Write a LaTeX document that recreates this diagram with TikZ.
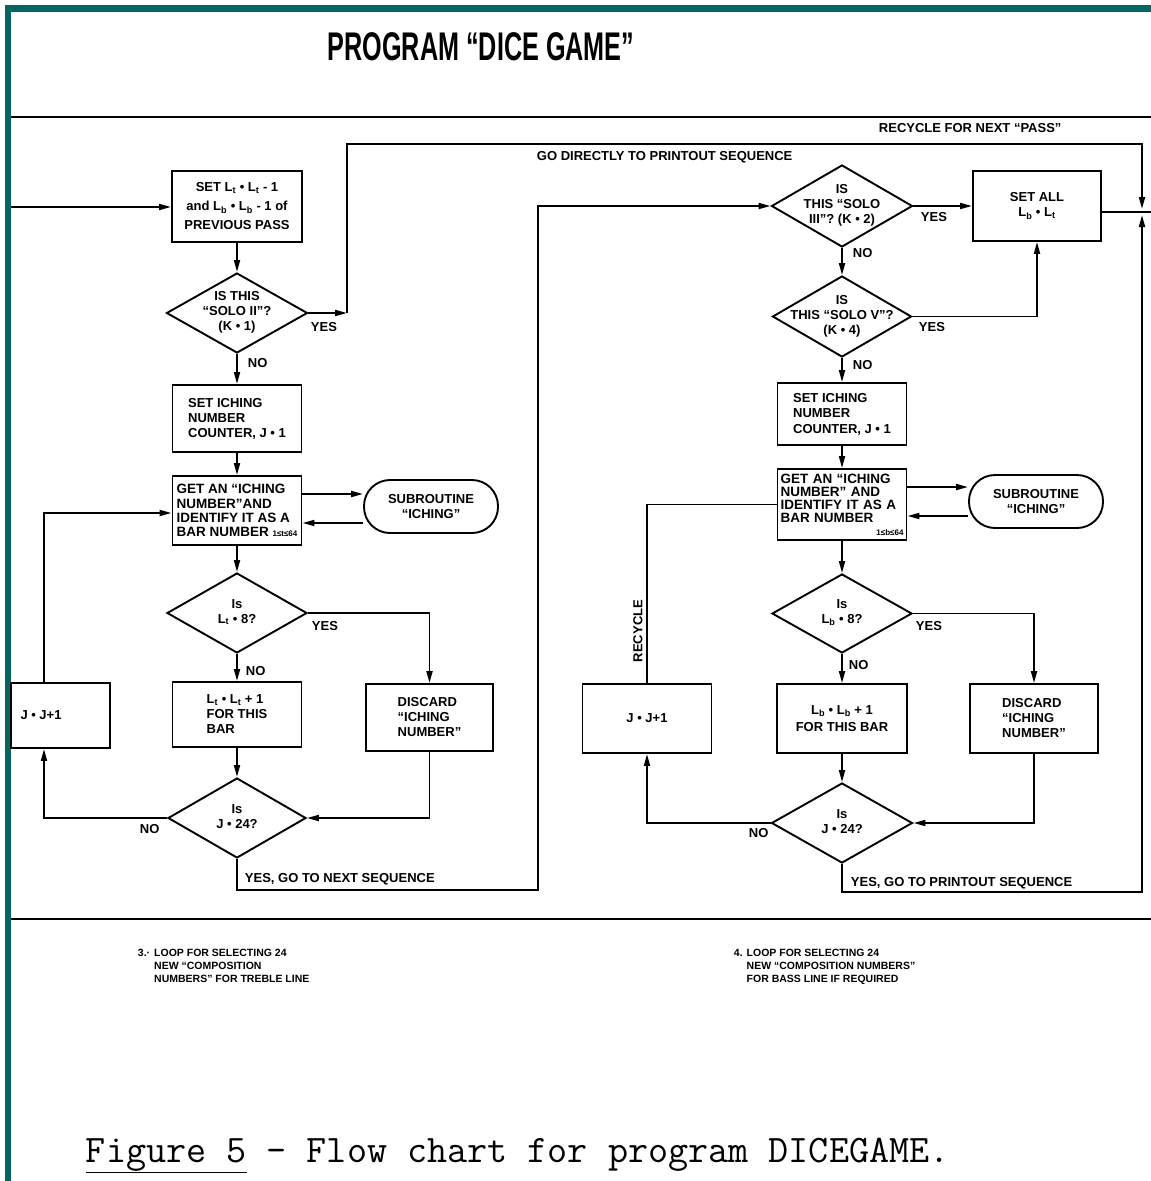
\documentclass[tikz,border=0pt]{standalone}
\usepackage{fontspec}
\usepackage{graphicx}
\usetikzlibrary{arrows.meta,shapes.geometric,calc}
\newfontfamily\cf{Liberation Sans}
\definecolor{framecol}{RGB}{0,104,96}
\newcommand\dtxt[1]{\smash{\makebox[0pt]{\raisebox{-2.5pt}{\begin{tabular}[c]{@{}c@{}}#1\end{tabular}}}}}
\begin{document}
\begin{tikzpicture}[x=1pt,y=-1pt,line width=1.9pt,
  every node/.style={font=\cf\bfseries\fontsize{13}{15}\selectfont},
  box/.style={draw,rectangle,inner sep=1pt},
  dia/.style={draw,diamond,inner sep=0pt},
  term/.style={draw,rectangle,rounded corners=26pt,align=center},
  lbl/.style={inner sep=0pt,anchor=west},
  arr/.style={-{Triangle[length=12pt,width=6pt]}}]
\fill[white] (0,0) rectangle (1151,1181);
\useasboundingbox (0,0) rectangle (1151,1181);
% frame and rules
\fill[framecol] (5,5) rectangle (1151,12);
\fill[framecol] (5,5) rectangle (11,1181);
\draw[line width=2.2pt] (11,117) -- (1151,117);
\draw[line width=2.4pt] (11,919) -- (1151,919);
% title
\node[inner sep=0pt,font=\cf\bfseries\fontsize{40}{42}\selectfont] (title) at (481,47) {\scalebox{0.63}[1]{PROGRAM “DICE GAME”}};
% ---------- left column ----------
\node[box,minimum width=130pt,minimum height=71pt,align=center,font=\cf\bfseries\fontsize{13}{19}\selectfont] (b1) at (237,206.5)
  {SET L\textsubscript{t} • L\textsubscript{t} - 1\\and L\textsubscript{b} • L\textsubscript{b} - 1 of\\PREVIOUS PASS};
\node[dia,minimum width=141pt,minimum height=80pt] (d1) at (237,313)
  {\dtxt{IS THIS\\“SOLO II”?\\(K • 1)}};
\node[box,minimum width=129pt,minimum height=67pt,align=left] (b2) at (237,418.5)
  {SET ICHING\\NUMBER\\COUNTER, J • 1};
\node[box,minimum width=129pt,minimum height=69pt,align=left,font=\cf\bfseries\fontsize{13.5}{14.3}\selectfont] (b3) at (237,510.5)
  {GET AN “ICHING\\NUMBER”AND\\IDENTIFY IT AS A\\BAR NUMBER {\fontsize{8}{8}\selectfont 1≤t≤64}};
\node[term,minimum width=134pt,minimum height=53pt] (s1) at (431,506.5) {SUBROUTINE\\“ICHING”};
\node[dia,minimum width=140pt,minimum height=80pt] (d2) at (237,613)
  {\dtxt{Is\\L\textsubscript{t} • 8?}};
\node[box,minimum width=129pt,minimum height=65pt,align=left] (b4) at (237,714.5)
  {L\textsubscript{t} • L\textsubscript{t} + 1\\FOR THIS\\BAR};
\node[box,minimum width=127pt,minimum height=67pt,align=left] (b5) at (429.5,717.5)
  {DISCARD\\“ICHING\\NUMBER”};
\node[box,minimum width=99pt,minimum height=65pt] (b6) at (60.5,715.5)
  {\makebox[80pt][l]{J • J+1}};
\node[dia,minimum width=138pt,minimum height=80pt] (d3) at (237,818)
  {\dtxt{Is\\J • 24?}};
% ---------- right column ----------
\node[dia,minimum width=141pt,minimum height=82pt] (d4) at (842,206)
  {\dtxt{IS\\THIS “SOLO\\III”? (K • 2)}};
\node[box,minimum width=128pt,minimum height=70pt,align=center] (b7) at (1037,206)
  {SET ALL\\L\textsubscript{b} • L\textsubscript{t}};
\node[dia,minimum width=139pt,minimum height=81pt] (d5) at (842,316.5)
  {\dtxt{IS\\THIS “SOLO V”?\\(K • 4)}};
\node[box,minimum width=129pt,minimum height=62pt,align=left,font=\cf\bfseries\fontsize{13}{15.5}\selectfont] (b8) at (842,414)
  {SET ICHING\\NUMBER\\COUNTER, J • 1};
\node[box,minimum width=129pt,minimum height=71pt,align=left,text width=123pt,font=\cf\bfseries\fontsize{13.5}{13}\selectfont] (b9) at (842,504.5)
  {GET AN “ICHING\\NUMBER” AND\\IDENTIFY IT AS A\\BAR NUMBER\\\hspace*{\fill}{\fontsize{8}{8}\selectfont 1≤b≤64}};
\node[term,minimum width=134pt,minimum height=53pt] (s2) at (1036,501.5) {SUBROUTINE\\“ICHING”};
\node[dia,minimum width=140pt,minimum height=79pt] (d6) at (842,613.5)
  {\dtxt{Is\\L\textsubscript{b} • 8?}};
\node[box,minimum width=130pt,minimum height=69pt,align=center,font=\cf\bfseries\fontsize{13}{17}\selectfont] (b10) at (842,718.5)
  {L\textsubscript{b} • L\textsubscript{b} + 1\\FOR THIS BAR};
\node[box,minimum width=128pt,minimum height=69pt,align=left] (b11) at (1034,718.5)
  {DISCARD\\“ICHING\\NUMBER”};
\node[box,minimum width=129pt,minimum height=69pt] (b12) at (647,718.5) {J • J+1};
\node[dia,minimum width=141pt,minimum height=80pt] (d7) at (842,823)
  {\dtxt{Is\\J • 24?}};
% ---------- labels ----------
\node[lbl] (lgo) at (536,157) {GO DIRECTLY TO PRINTOUT SEQUENCE};
\node[lbl] (lrec) at (878,128) {RECYCLE FOR NEXT “PASS”};
\node[lbl] (y1) at (310,327) {YES};
\node[lbl] (n1) at (247,363) {NO};
\node[lbl] (y2) at (311,626) {YES};
\node[lbl] (n2) at (245,671) {NO};
\node[lbl] (n3) at (139,829) {NO};
\node[lbl] (lyes1) at (244,879) {YES, GO TO NEXT SEQUENCE};
\node[lbl] (y4) at (920,217) {YES};
\node[lbl] (n4) at (852,253) {NO};
\node[lbl] (y5) at (918,327) {YES};
\node[lbl] (n5) at (852,365) {NO};
\node[lbl] (y6) at (915,626) {YES};
\node[lbl] (n6) at (848,665) {NO};
\node[lbl] (n7) at (748,833) {NO};
\node[lbl] (lyes2) at (850,883) {YES, GO TO PRINTOUT SEQUENCE};
\node[inner sep=0pt,rotate=90] (lrecy) at (638,631) {RECYCLE};
% ---------- coordinates ----------
\coordinate (in) at (11,207);
\coordinate (c1) at (347,313);
\coordinate (tr) at (1142,144);
\coordinate (jn) at (1142,212);
\coordinate (jnT) at (1142,209);
\coordinate (jnB) at (1142,215);
\coordinate (out) at (1151,212);
\coordinate (lb) at (538,890);
\coordinate (rb) at (1142,892);
\coordinate (lxL) at (44,0);
\coordinate (b3o) at ([yshift=16.5pt]b3.east);
\coordinate (s1o) at ([yshift=-16.5pt]s1.west);
\coordinate (b3i) at ([yshift=-2.5pt]b3.west);
\coordinate (b9o) at ([yshift=17.5pt]b9.east);
\coordinate (s2o) at ([yshift=-14.5pt]s2.west);
% ---------- connectors left ----------
\draw[arr] (in) -- (in -| b1.west);
\draw[arr] (b1.south) -- (d1.north);
\draw[arr] (d1.east) -- (c1);
\draw[arr] (c1) |- (tr) -- (jnT);
\draw (b7.east |- jn) -- (out);
\draw[arr] (d1.south) -- (b2.north);
\draw[arr] (b2.south) -- (b3.north);
\draw[arr] (b3o) -- (b3o -| s1.west);
\draw[arr] (s1o) -- (s1o -| b3.east);
\draw[arr] (b6.north -| lxL) |- (b3i);
\draw[arr] (b3.south) -- (d2.north);
\draw[arr] (d2.east) -| (b5.north);
\draw[arr] (d2.south) -- (b4.north);
\draw[arr] (b4.south) -- (d3.north);
\draw[arr] (b5.south) |- (d3.east);
\draw[arr] (d3.west) -| (b6.south -| lxL);
\draw[arr] (d3.south) |- (lb) |- (d4.west);
% ---------- connectors right ----------
\draw[arr] (d4.east) -- (b7.west);
\draw[arr] (d4.south) -- (d5.north);
\draw[arr] (d5.east) -| (b7.south);
\draw[arr] (d5.south) -- (b8.north);
\draw[arr] (b8.south) -- (b9.north);
\draw[arr] (b9o) -- (b9o -| s2.west);
\draw[arr] (s2o) -- (s2o -| b9.east);
\draw[arr] (b9.south) -- (d6.north);
\draw[arr] (d6.east) -| (b11.north);
\draw[arr] (d6.south) -- (b10.north);
\draw[arr] (b10.south) -- (d7.north);
\draw[arr] (b11.south) |- (d7.east);
\draw[arr] (d7.west) -| (b12.south);
\draw (b12.north) |- (b9.west);
\draw[arr] (d7.south) |- (rb) -- (jnB);
% ---------- captions ----------
\node[inner sep=0pt,anchor=north west,font=\cf\bfseries\fontsize{10.5}{13}\selectfont] (cap3) at (137,946)
  {\begin{tabular}{@{}l@{\hspace{4pt}}l@{}}3.· & LOOP FOR SELECTING 24\\ & NEW “COMPOSITION\\ & NUMBERS” FOR TREBLE LINE\end{tabular}};
\node[inner sep=0pt,anchor=north west,font=\cf\bfseries\fontsize{10.5}{13}\selectfont] (cap4) at (733,946)
  {\begin{tabular}{@{}l@{\hspace{4pt}}l@{}}4. & LOOP FOR SELECTING 24\\ & NEW “COMPOSITION NUMBERS”\\ & FOR BASS LINE IF REQUIRED\end{tabular}};
\node[anchor=base west,inner sep=0pt,font=\ttfamily\fontsize{39}{41}\selectfont] (fig) at (85,1162)
  {\underline{Figure 5} - Flow chart for program DICEGAME.};
\end{tikzpicture}
\end{document}
